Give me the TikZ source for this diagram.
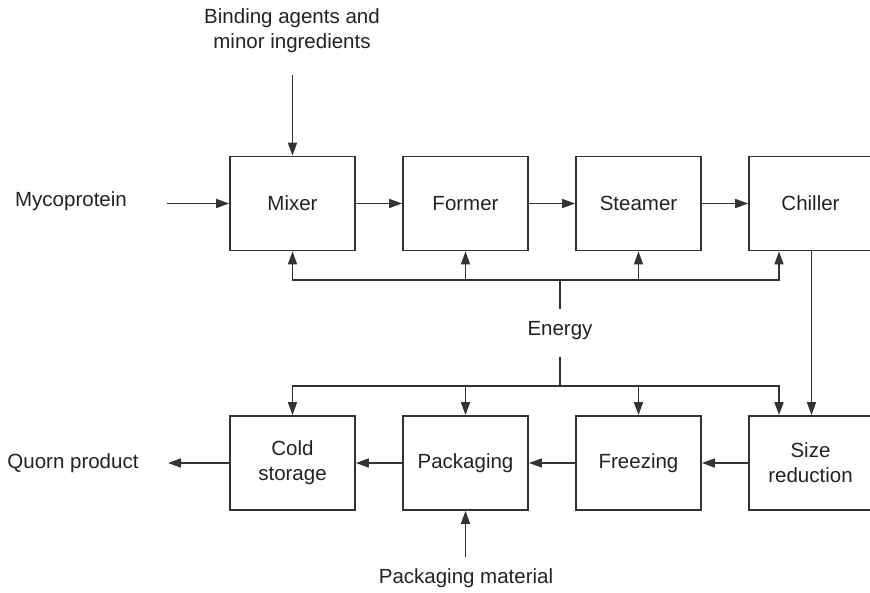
\documentclass[tikz,border=0pt]{standalone}
\usepackage{fontspec}
\setmainfont{Liberation Sans}
\usetikzlibrary{arrows.meta}
\definecolor{ln}{HTML}{333333}
\definecolor{tx}{HTML}{222222}
\begin{document}
\begin{tikzpicture}[x=1pt,y=-1pt,
  font=\fontsize{20.5}{25}\selectfont,
  every node/.style={text=tx},
  proc/.style={draw=ln,line width=1.8pt,minimum width=125pt,minimum height=94pt,align=center,inner sep=0pt},
  lbl/.style={align=center,inner sep=0pt},
  arr/.style={draw=ln,line width=1.6pt,-{Triangle[length=13pt,width=9pt]}},
  ln/.style={draw=ln,line width=1.6pt}]
\useasboundingbox (0,0) rectangle (870,592);
\clip (0,0) rectangle (870,592);
% top row
\node[proc] (mixer) at (292.5,203.5) {Mixer};
\node[proc] (former) at (465.5,203.5) {Former};
\node[proc] (steamer) at (638.5,203.5) {Steamer};
\node[proc] (chiller) at (811.5,203.5) {\hspace*{-2pt}Chiller};
% bottom row
\node[proc] (cold) at (292.5,463) {Cold\\storage};
\node[proc] (pack) at (465.5,463) {Packaging};
\node[proc] (freeze) at (638.5,463) {Freezing};
\node[proc] (size) at (811.5,463) {\hspace*{-2pt}Size\\\hspace*{-2pt}reduction};
% labels
\node[lbl] (myco) at (71,201) {Mycoprotein};
\node[lbl] (bind) at (292,31) {Binding agents and\\minor ingredients};
\node[lbl] (energy) at (560,331) {Energy};
\node[lbl] (quorn) at (73,463) {Quorn product};
\node[lbl] (pmat) at (466,578) {Packaging material};
% free ends
\coordinate (mycoEnd) at (167,203.5);
\coordinate (bindEnd) at (292.5,75);
\coordinate (quornEnd) at (168,463);
\coordinate (pmatEnd) at (465.5,557);
\coordinate (eTop) at (560,280);
\coordinate (eTopEnd) at (560,309);
\coordinate (eBot) at (560,386);
\coordinate (eBotEnd) at (560,357);
% main flow
\draw[arr] (mycoEnd) -- (mixer.west);
\draw[arr] (bindEnd) -- (mixer.north);
\draw[arr] (mixer) -- (former);
\draw[arr] (former) -- (steamer);
\draw[arr] (steamer) -- (chiller);
\draw[arr] (chiller.south) -- (size.north);
\draw[arr] (size) -- (freeze);
\draw[arr] (freeze) -- (pack);
\draw[arr] (pack) -- (cold);
\draw[arr] (cold.west) -- (quornEnd);
\draw[arr] (pmatEnd) -- (pack.south);
% energy
\draw[ln] (eTopEnd) -- (eTop);
\draw[arr] (eTop) -| (mixer.south);
\draw[arr] (eTop) -| (former.south);
\draw[arr] (eTop) -| (steamer.south);
\draw[arr] (eTop) -| ([xshift=-32.5pt]chiller.south);
\draw[ln] (eBotEnd) -- (eBot);
\draw[arr] (eBot) -| (cold.north);
\draw[arr] (eBot) -| (pack.north);
\draw[arr] (eBot) -| (freeze.north);
\draw[arr] (eBot) -| ([xshift=-32.5pt]size.north);
\end{tikzpicture}
\end{document}
